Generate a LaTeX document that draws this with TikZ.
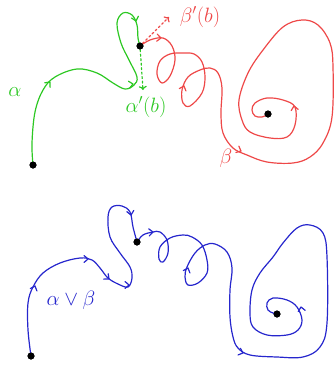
\documentclass[tikz,border=0pt]{standalone}
\usepackage{amsmath, amssymb}
\usepackage{xcolor}
\usepackage{tikz}
\usetikzlibrary{arrows.meta}

\definecolor{penGreen}{RGB}{45,200,35}
\definecolor{penRed}{RGB}{238,72,72}
\definecolor{penBlue}{RGB}{38,38,205}

\tikzset{
  pen/.style={line width=1.2pt, line cap=round, line join=round},
  dot/.style={circle, fill=black, inner sep=0pt, minimum size=7pt},
  dashpen/.style={pen, dash pattern=on 2pt off 2.5pt, -{To[length=4pt,width=8pt]}},
  chev/.pic={\draw[pen] (-4,3.5) -- (0,0) -- (-4,-3.5);},
  lbl/.style={font=\huge}
}

\begin{document}
\begin{tikzpicture}[x=1pt,y=-1pt]
\useasboundingbox (0,0) rectangle (335,365);

% --- DOTS ---
\node[dot] (startA) at (33,165) {};
\node[dot] (joint) at (140,46) {};
\node[dot] (endB) at (268,114) {};
\node[dot] (startC) at (31,356) {};
\node[dot] (jointC) at (137,242) {};
\node[dot] (endC) at (277,314) {};

% --- ALPHA ---
\draw[pen, penGreen] plot[smooth, tension=0.6] coordinates {
  (startA.center) (32,143) (35,112) (43,90) (55,77) (77,69) (97,73)
  (113,83) (125,89) (134,85) (137,77) (129,60) (121,43) (117,23)
  (123,13) (132,15) (137,25) (138,38) (joint.center)};
\foreach \x/\y/\a in {50/82/50,133/84/10,136/21/-75} {
  \pic[penGreen, rotate=\a] at (\x,\y) {chev};
}
\coordinate (alphaTip) at (143,90);
\draw[dashpen, penGreen] (joint) -- (alphaTip);
\node[lbl, penGreen] (alphaLbl) at (15,92) {$\alpha$};
\node[lbl, penGreen] (alphaDer) at (146,107) {$\alpha'(b)$};

% --- BETA ---
\draw[pen, penRed] plot[smooth, tension=0.6] coordinates {
  (joint.center) (150,40) (163,38) (172,46) (175,60) (170,76) (162,83)
  (157,74) (160,61) (170,54) (183,53) (194,54) (202,62) (205,77) (202,93)
  (190,106) (183,103) (182,90) (188,77) (200,70) (210,68) (218,73)
  (222,88) (221,113) (223,133) (233,148) (247,155) (267,162) (293,163)
  (310,157) (323,143) (332,117) (333,67) (330,43) (318,25) (302,20)
  (283,27) (263,50) (248,73) (239,100) (242,120) (250,132) (270,138)
  (287,137) (295,125) (295,107) (283,100) (267,98) (255,103) (252,110)
  (255,116) (262,117) (endB.center)};
\foreach \x/\y/\a in {161/38/-5,184/86/70,241/151/-25,294/106/100} {
  \pic[penRed, rotate=\a] at (\x,\y) {chev};
}
\coordinate (betaTip) at (169,17);
\draw[dashpen, penRed] (joint) -- (betaTip);
\node[lbl, penRed] (betaDer) at (200,17) {$\beta'(b)$};
\node[lbl, penRed] (betaLbl) at (226,158) {$\beta$};

% --- ALPHA V BETA ---
\draw[pen, penBlue] plot[smooth, tension=0.6] coordinates {
  (startC.center) (28,330) (28,303) (33,287) (43,273) (60,263) (80,258)
  (92,260) (100,268) (108,278) (118,284) (128,287) (132,278) (130,267)
  (120,253) (110,237) (108,217) (112,207) (122,206) (130,212) (133,227)
  (jointC.center)};
\draw[pen, penBlue] plot[smooth, tension=0.6] coordinates {
  (jointC.center) (143,235) (153,232) (160,232) (167,240) (168,253)
  (163,262) (159,259) (160,247) (170,238) (183,235) (192,237) (202,245)
  (207,260) (207,273) (198,283) (188,285) (185,277) (187,267) (195,253)
  (205,245) (215,244) (227,252) (232,268) (230,290) (230,317) (233,337)
  (238,348) (250,355) (277,357) (303,357) (320,347) (327,323) (327,257)
  (323,233) (310,225) (297,228) (283,243) (273,257) (260,273) (252,290)
  (250,313) (253,327) (267,335) (287,335) (298,330) (302,320) (297,307)
  (287,300) (273,298) (267,303) (268,310) (273,313) (endC.center)};
\foreach \x/\y/\a in {35/286/70,88/259/0,109/279/-40,129/285/0,
                      131/215/-80,153/232/5,188/268/70,243/353/-20,
                      301/307/100} {
  \pic[penBlue, rotate=\a] at (\x,\y) {chev};
}
\node[lbl, penBlue] (joinLbl) at (71,300) {$\alpha\vee\beta$};

% dots on top
\foreach \n in {startA,joint,endB,startC,jointC,endC} {
  \fill (\n.center) circle (3.5pt);
}
\end{tikzpicture}
\end{document}
